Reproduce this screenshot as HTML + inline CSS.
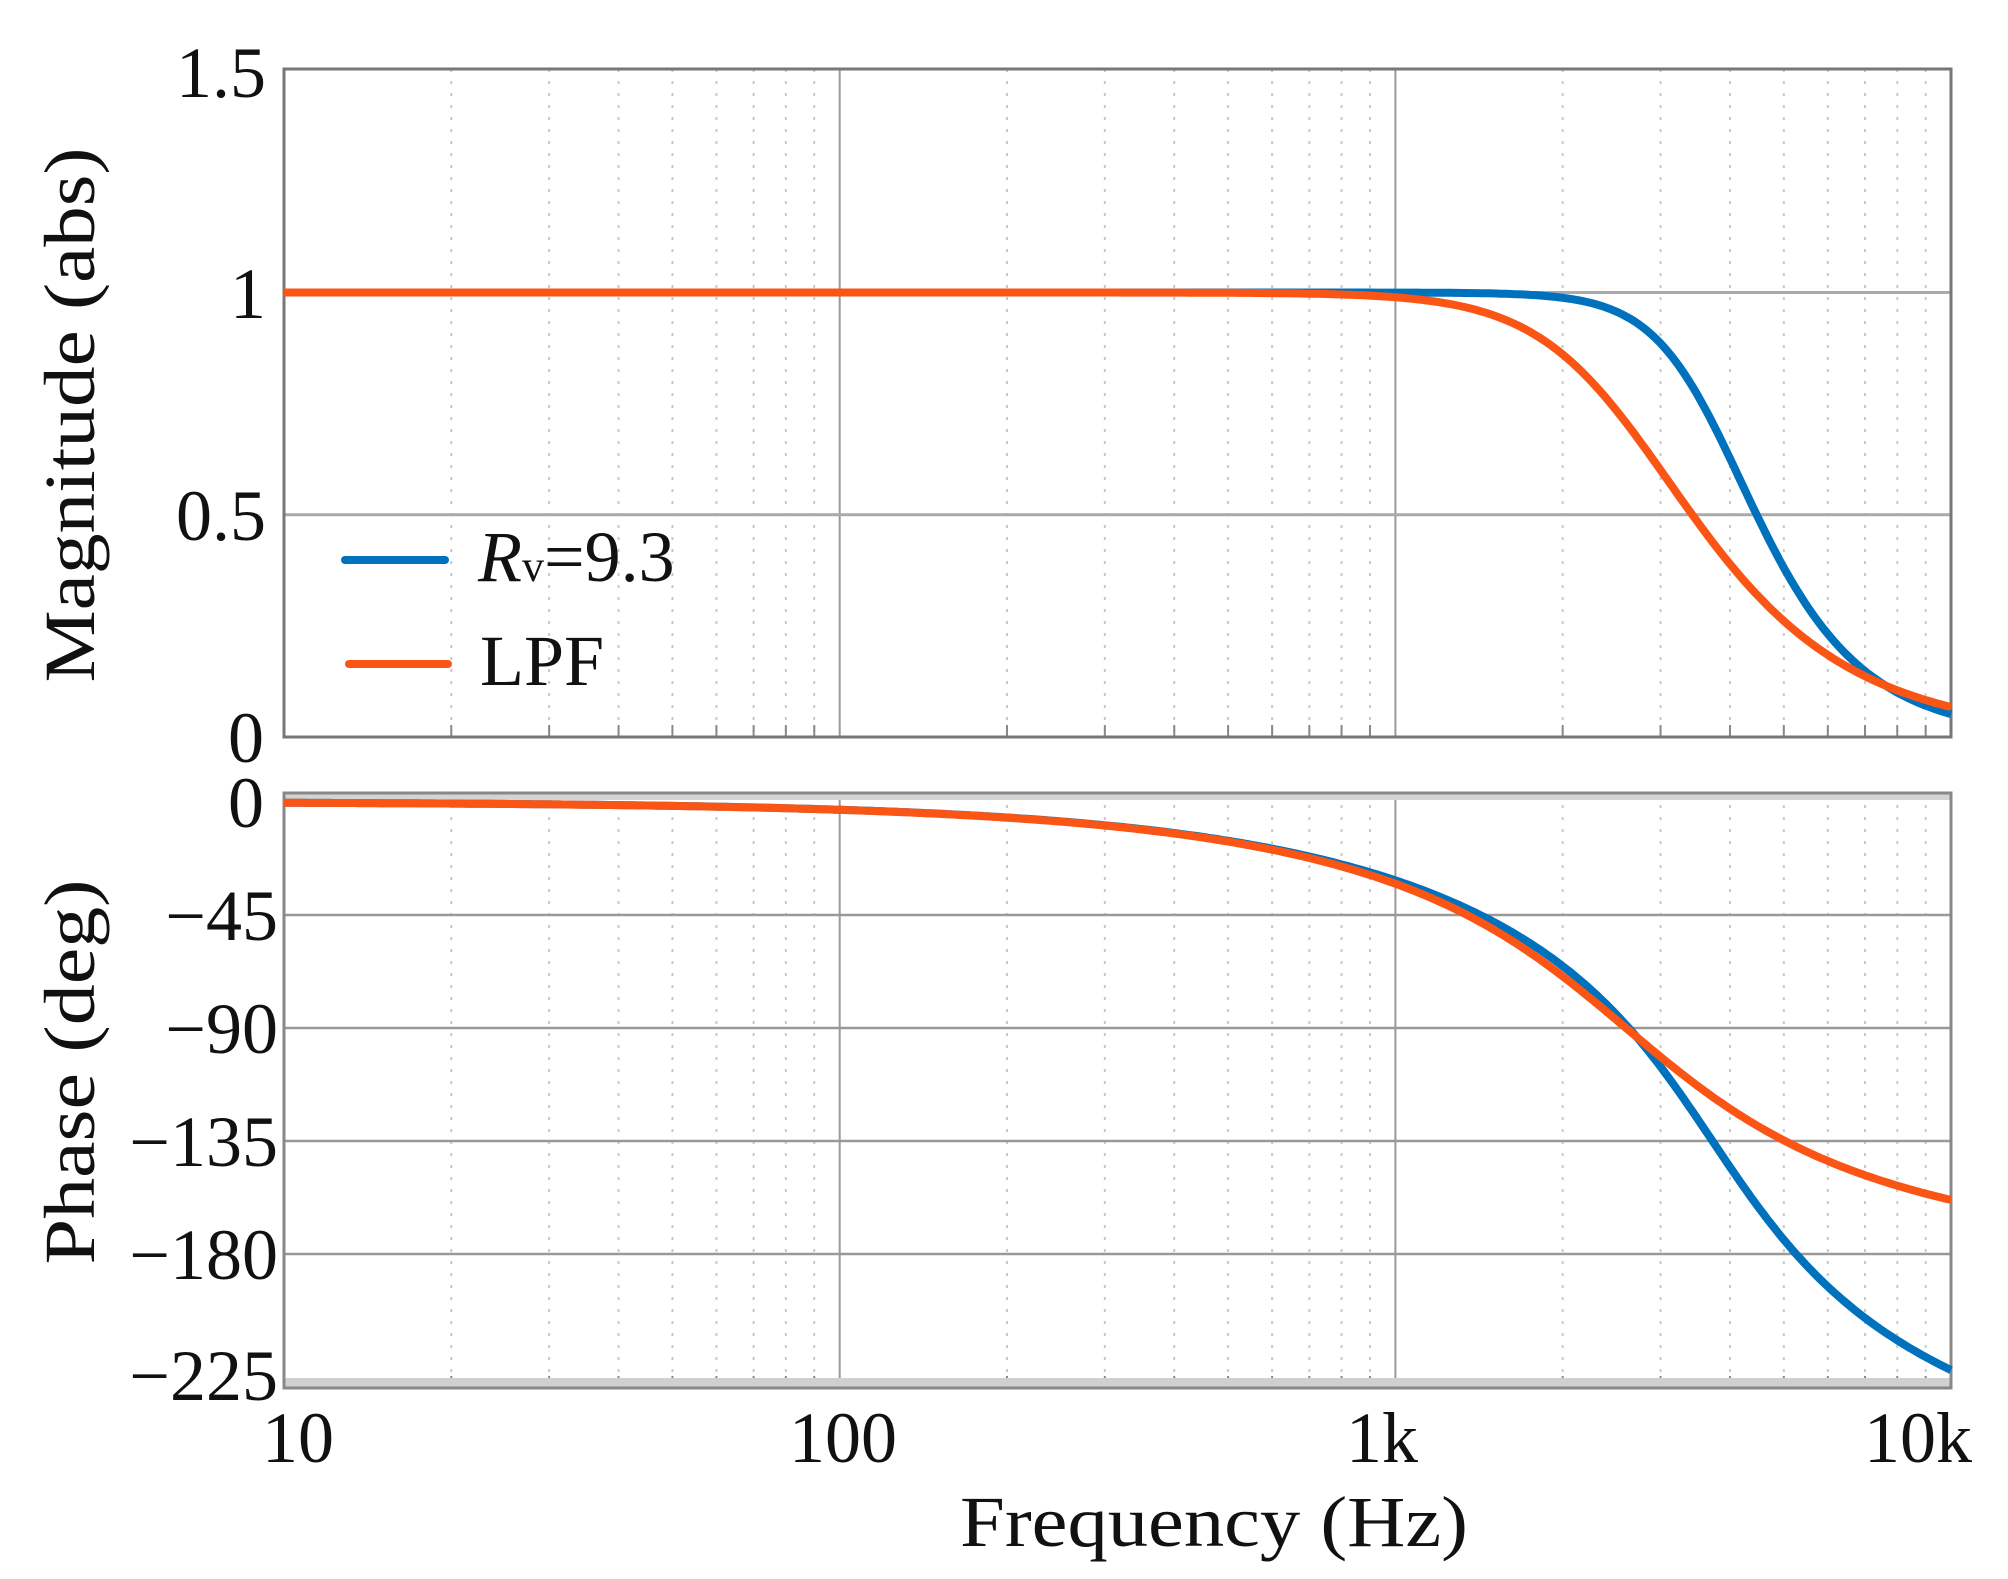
<!DOCTYPE html>
<html><head><meta charset="utf-8">
<style>
html,body{margin:0;padding:0;background:#fff;}
svg{display:block;}
text{font-family:"Liberation Serif",serif;fill:#111;}
</style></head>
<body>
<svg id="s" width="2008" height="1579" viewBox="0 0 2008 1579" xmlns="http://www.w3.org/2000/svg">
<rect width="2008" height="1579" fill="#fff"/>
<g id="grid"></g>
<rect x="284" y="793" width="1667" height="7" fill="#d4d4d4"/>
<rect x="284" y="1378" width="1667" height="10" fill="#d0d0d0"/>
<rect x="284" y="69" width="1667" height="668" fill="none" stroke="#777" stroke-width="3"/>
<rect x="284" y="793" width="1667" height="595" fill="none" stroke="#888" stroke-width="3"/>
<g id="curves"></g>
<line x1="345" y1="560" x2="445" y2="560" stroke="#0072BD" stroke-width="8" stroke-linecap="round"/>
<line x1="349" y1="664" x2="448" y2="664" stroke="#FA5514" stroke-width="8" stroke-linecap="round"/>
<text x="478" y="581" font-size="72"><tspan font-style="italic">R</tspan><tspan font-size="44">v</tspan>=9.3</text>
<text x="480" y="685" font-size="72">LPF</text>
<g font-size="72" text-anchor="end">
<text x="266" y="97">1.5</text>
<text x="266" y="318">1</text>
<text x="266" y="540">0.5</text>
<text x="264" y="762">0</text>
<text x="264" y="827">0</text>
<text x="278" y="940">−45</text>
<text x="278" y="1053">−90</text>
<text x="278" y="1166">−135</text>
<text x="278" y="1279">−180</text>
<text x="278" y="1400">−225</text>
</g>
<g font-size="72" text-anchor="middle">
<text x="298" y="1462">10</text>
<text x="843" y="1462">100</text>
<text x="1382" y="1462">1k</text>
<text x="1918" y="1462">10k</text>
</g>
<text x="1214" y="1546" font-size="72" text-anchor="middle" textLength="508" lengthAdjust="spacingAndGlyphs">Frequency  (Hz)</text>
<text transform="translate(94,415) rotate(-90)" font-size="72" text-anchor="middle" textLength="535" lengthAdjust="spacingAndGlyphs">Magnitude  (abs)</text>
<text transform="translate(94,1072) rotate(-90)" font-size="72" text-anchor="middle" textLength="385" lengthAdjust="spacingAndGlyphs">Phase  (deg)</text>
</svg>
<script>
(function(){
var NS="http://www.w3.org/2000/svg";
var X0=284,DEC=555.7,XR=1951;
function fx(f){return X0+DEC*(Math.log10(f)-1);}
function my(v){return 737-444.5*v;}
function py(d){return 802-2.511*d;}
var g=document.getElementById('grid'),c=document.getElementById('curves');
function ln(p,x1,y1,x2,y2,col,w,dash){var l=document.createElementNS(NS,'line');l.setAttribute('x1',x1);l.setAttribute('y1',y1);l.setAttribute('x2',x2);l.setAttribute('y2',y2);l.setAttribute('stroke',col);l.setAttribute('stroke-width',w);if(dash)l.setAttribute('stroke-dasharray',dash);p.appendChild(l);}
var panels=[[69,737],[793,1388]];
for(var d=1;d<=3;d++){for(var k=1;k<=9;k++){var f=k*Math.pow(10,d);var x=fx(f);if(x>XR)continue;
 panels.forEach(function(p){
  if(k==1){ if(d>1) ln(g,x,p[0],x,p[1],'#999',2);}
  else {ln(g,x,p[0],x,p[1],'#c8c8c8',2,'3,9'); ln(g,x,p[1]-12,x,p[1],'#888',2);}
 });}}
[0.5,1].forEach(function(v){ln(g,X0,my(v),XR,my(v),'#aaa',3);});
[-45,-90,-135,-180].forEach(function(v){ln(g,X0,py(v),XR,py(v),'#999',2.5);});
function resp(f,type){
 if(type==2){var x=f/2600;var s2r=1-x*x,s2i=Math.SQRT2*x;
   var m=1/Math.hypot(s2r,s2i);var ph=-Math.atan2(s2i,s2r)*180/Math.PI;return[m,ph];}
 else{var x=f/3720;var ar=1,ai=x;var br=1-x*x,bi=x;
   var m=1/(Math.hypot(ar,ai)*Math.hypot(br,bi));
   var ph=-(Math.atan2(ai,ar)+Math.atan2(bi,br))*180/Math.PI;return[m,ph];}
}
function path(type,col,which){
 var pts=[];for(var i=0;i<=400;i++){var lf=1+i/400*3;var f=Math.pow(10,lf);var r=resp(f,type);
  var y=which==0?my(r[0]):py(r[1]);pts.push(fx(f).toFixed(1)+','+y.toFixed(1));}
 var p=document.createElementNS(NS,'polyline');p.setAttribute('points',pts.join(' '));p.setAttribute('fill','none');p.setAttribute('stroke',col);p.setAttribute('stroke-width','8');p.setAttribute('stroke-linejoin','round');c.appendChild(p);
}
path(3,'#0072BD',0);path(2,'#FA5514',0);
path(3,'#0072BD',1);path(2,'#FA5514',1);
})();
</script>
</body></html>
